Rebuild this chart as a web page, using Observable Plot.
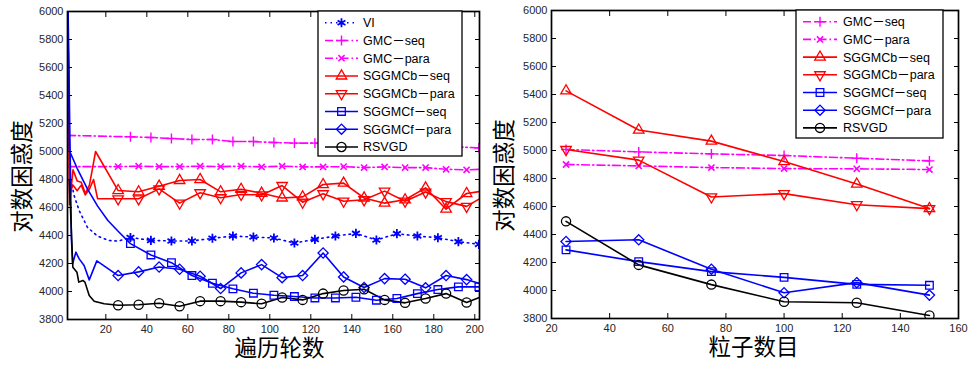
<!DOCTYPE html>
<html><head><meta charset="utf-8">
<script src="https://cdn.jsdelivr.net/npm/d3@7"></script>
<script src="https://cdn.jsdelivr.net/npm/@observablehq/plot@0.6"></script>
<style>
body{margin:0;background:#fff;}
#wrap{position:relative;width:969px;height:367px;overflow:hidden;background:#fff;}
#wrap svg{position:absolute;top:0;}
</style></head><body><div id="wrap"></div>
<script>
// ---------- tick labels ----------
const yTicks = [3800,4000,4200,4400,4600,4800,5000,5200,5400,5600,5800,6000];
const leftXTicks = [20,40,60,80,100,120,140,160,180,200];
const rightXTicks = [20,40,60,80,100,120,140,160];
const leftXLabel = "遍历轮数";
const rightXLabel = "粒子数目";
const yLabel = "对数困惑度";

// ---------- left chart: perplexity vs epochs ----------
const epochsA = [26,36,46,56,66,76,86,96,106,116,126,136,146,156,166,176,186,196];
const epochsB = [32,42,52,62,72,82,92,102,112,122,132,142,152,162,172,182,192,202];

const viEarly = [[3,4800],[4.5,4686],[7,4578],[11,4459],[16,4395],[21.6,4364],[26,4360]];
const viVals = [4386,4365,4361,4361,4380,4396,4389,4382,4346,4372,4396,4415,4368,4413,4396,4384,4356,4337];

const gmcSeqEarly = [[1.3,5115]];
const gmcSeqVals = [5105,5100,5093,5086,5086,5071,5071,5064,5060,5060,5055,5050,5047,5043,5040,5036,5032,5026];

const gmcParaEarly = [[1.3,4892]];
const gmcParaVals = [4892,4895,4892,4892,4895,4892,4895,4890,4895,4890,4890,4892,4885,4890,4885,4885,4873,4869];
const gmcParaTail = [[202.3,4873]];

const sgbSeqEarly = [[1.3,6300],[2.3,4620],[4,4870],[6,4790],[8,4780],[10,4700],[12,4760],[15,5000]];
const sgbSeqVals = [4721,4712,4752,4793,4800,4712,4730,4702,4668,4676,4764,4774,4668,4631,4655,4740,4588,4700];
const sgbSeqTail = [[202.3,4714]];

const sgbParaEarly = [[1.3,6300],[2.3,4700],[4,4760],[6,4720],[8,4760],[10,4690],[12,4730],[14,4800],[16,4662]];
const sgbParaVals = [4662,4662,4733,4631,4705,4670,4693,4690,4757,4638,4698,4645,4655,4717,4645,4710,4642,4608];
const sgbParaTail = [[202.3,4662]];

const sgfSeqEarly = [[1.3,6300],[2.2,5007],[6,4880],[11,4733],[16,4610],[21,4507],[26,4430]];
const sgfSeqVals = [4342,4261,4206,4114,4059,4019,3988,3973,3964,3954,3954,3959,3938,3950,3985,4014,4033,4033];

const sgfParaEarly = [[1.3,6300],[3.2,4380],[3.8,4198],[5.4,4281],[7,4233],[9.4,4186],[11.9,4083],[15.6,4219]];
const sgfParaVals = [4114,4140,4175,4159,4109,4021,4133,4192,4099,4114,4275,4104,4028,4092,4088,4026,4114,4085];
const sgfParaTail = [[202.3,4057]];

const rsvgdEarly = [[2.2,4800],[3.9,4174],[5.9,4138],[6.8,4067],[8.8,4079],[9.8,4067],[11.9,3971],[14.3,3931],[19.2,3912]];
const rsvgdVals = [3902,3905,3916,3895,3931,3931,3924,3912,3957,3940,3985,4007,4016,3940,3919,3950,3985,3921];
const rsvgdTail = [[202.3,3957]];

// ---------- right chart: perplexity vs number of particles ----------
const particles = [25,50,75,100,125,150];
const gmcSeqR  = [5007,4990,4976,4964,4945,4926];
const gmcParaR = [4900,4890,4878,4871,4869,4864];
const sgbSeqR  = [5426,5146,5067,4921,4760,4585];
const sgbParaR = [5007,4931,4668,4692,4613,4585];
const sgfSeqR  = [4290,4206,4135,4094,4044,4037];
const sgfParaR = [4350,4362,4152,3984,4056,3967];
const rsvgdR   = [4494,4183,4042,3920,3913,3822];

// ---------- series names ----------
const names = ["VI","GMC－seq","GMC－para","SGGMCb－seq","SGGMCb－para","SGGMCf－seq","SGGMCf－para","RSVGD"];

// ---------- styles ----------
const style = {
  "VI":          {stroke:"#0000ff", dash:"1.5,4",       symbol:"asterisk", r:4.3, rotate:0,   sw:1.8},
  "GMC－seq":    {stroke:"#ff00ff", dash:"8,3,1.5,3",   symbol:"plus",     r:3.3, rotate:0,   sw:1.4},
  "GMC－para":   {stroke:"#ff00ff", dash:"8,3,1.5,3",   symbol:"times",    r:2.9, rotate:0,   sw:1.6},
  "SGGMCb－seq": {stroke:"#ff0000", dash:null,          symbol:"triangle", r:3.9, rotate:0,   sw:1.3},
  "SGGMCb－para":{stroke:"#ff0000", dash:null,          symbol:"triangle", r:3.9, rotate:180, sw:1.3},
  "SGGMCf－seq": {stroke:"#0000ff", dash:null,          symbol:"square",   r:4.3, rotate:0,   sw:1.3},
  "SGGMCf－para":{stroke:"#0000ff", dash:null,          symbol:"diamond2", r:4.6, rotate:0,   sw:1.3},
  "RSVGD":       {stroke:"#000000", dash:null,          symbol:"circle",   r:4.6, rotate:0,   sw:1.3}
};

const toRows = pts => pts.map(([x,y]) => ({x, y}));
const zipRows = (xs, ys) => xs.map((x,i) => ({x, y: ys[i]}));

const leftSeries = [
  {name:names[0], line:[...toRows(viEarly), ...zipRows(epochsB, viVals)], marks: zipRows(epochsB, viVals)},
  {name:names[1], line:[...toRows(gmcSeqEarly), ...zipRows(epochsB, gmcSeqVals)], marks: zipRows(epochsB, gmcSeqVals)},
  {name:names[2], line:[...toRows(gmcParaEarly), ...zipRows(epochsA, gmcParaVals), ...toRows(gmcParaTail)], marks: zipRows(epochsA, gmcParaVals)},
  {name:names[3], line:[...toRows(sgbSeqEarly), ...zipRows(epochsA, sgbSeqVals), ...toRows(sgbSeqTail)], marks: zipRows(epochsA, sgbSeqVals)},
  {name:names[4], line:[...toRows(sgbParaEarly), ...zipRows(epochsA, sgbParaVals), ...toRows(sgbParaTail)], marks: zipRows(epochsA, sgbParaVals)},
  {name:names[5], line:[...toRows(sgfSeqEarly), ...zipRows(epochsB, sgfSeqVals)], marks: zipRows(epochsB, sgfSeqVals)},
  {name:names[6], line:[...toRows(sgfParaEarly), ...zipRows(epochsA, sgfParaVals), ...toRows(sgfParaTail)], marks: zipRows(epochsA, sgfParaVals)},
  {name:names[7], line:[...toRows(rsvgdEarly), ...zipRows(epochsA, rsvgdVals), ...toRows(rsvgdTail)], marks: zipRows(epochsA, rsvgdVals)}
];
const rightVals = [gmcSeqR, gmcParaR, sgbSeqR, sgbParaR, sgfSeqR, sgfParaR, rsvgdR];
const rightSeries = names.slice(1).map((n,i) => ({name:n, line: zipRows(particles, rightVals[i]), marks: zipRows(particles, rightVals[i])}));

const FONT = '"Liberation Sans", Arial, "Noto Sans CJK SC", sans-serif';
const CJK = '"Noto Sans CJK SC", sans-serif';

function seriesMarks(series) {
  const out = [];
  for (const s of series) {
    const st = style[s.name];
    out.push(Plot.line(s.line, {x:"x", y:"y", stroke:st.stroke, strokeWidth:1.6, strokeDasharray:st.dash, clip:true}));
  }
  for (const s of series) {
    const st = style[s.name];
    out.push(Plot.dot(s.marks, {x:"x", y:"y", symbol:st.symbol, r:st.r, rotate:st.rotate, stroke:st.stroke, fill:"none", strokeWidth:st.sw, clip:true}));
  }
  return out;
}

const fmt = d => String(d);
function axisMarks(xTicks) {
  return [
    Plot.axisY(yTicks, {anchor:"left", tickSize:0, tickPadding:4, fontSize:11, fill:"#262626", label:null, tickFormat:fmt}),
    Plot.axisX(xTicks, {anchor:"bottom", tickSize:0, tickPadding:6, fontSize:11, fill:"#262626", label:null, tickFormat:fmt}),
    Plot.axisY(yTicks, {anchor:"left", tickSize:-5, tickFormat:() => "", label:null, strokeWidth:1}),
    Plot.axisY(yTicks, {anchor:"right", tickSize:-5, tickFormat:() => "", label:null, strokeWidth:1}),
    Plot.axisX(xTicks, {anchor:"bottom", tickSize:-5, tickFormat:() => "", label:null, strokeWidth:1}),
    Plot.axisX(xTicks, {anchor:"top", tickSize:-5, tickFormat:() => "", label:null, strokeWidth:1}),
    Plot.frame({stroke:"#000", strokeWidth:1.7})
  ];
}

function labelMarks(xl, ldx, xdx) {
  return [
    Plot.text([yLabel], {frameAnchor:"left", text:d => d, rotate:-90, textAnchor:"middle", lineAnchor:"middle", dx:ldx, dy:11, fontSize:22.5, fontFamily:CJK, fill:"#000"}),
    Plot.text([xl], {frameAnchor:"bottom", text:d => d, textAnchor:"middle", lineAnchor:"middle", dx:xdx, dy:29, fontSize:22.5, fontFamily:CJK, fill:"#000"})
  ];
}

const wrap = document.getElementById("wrap");

const left = Plot.plot({
  width:485, height:367,
  marginLeft:67, marginRight:6, marginTop:11, marginBottom:48,
  style:{fontFamily:FONT, background:"transparent", overflow:"visible"},
  x:{domain:[1.3,202.3], label:null},
  y:{domain:[3800,6000], label:null},
  marks:[...seriesMarks(leftSeries), ...axisMarks(leftXTicks), ...labelMarks(leftXLabel, -45, 6)]
});
left.style.left = "0px";
wrap.appendChild(left);

const right = Plot.plot({
  width:484, height:367,
  marginLeft:66, marginRight:11, marginTop:10, marginBottom:49,
  style:{fontFamily:FONT, background:"transparent", overflow:"visible"},
  x:{domain:[20,160], label:null},
  y:{domain:[3800,6000], label:null},
  marks:[...seriesMarks(rightSeries), ...axisMarks(rightXTicks), ...labelMarks(rightXLabel, -47, -1.5)]
});
right.style.left = "485px";
wrap.appendChild(right);

// ---------- legends (inside the axes, drawn over the plots) ----------
const symMap = {asterisk:d3.symbolAsterisk, plus:d3.symbolPlus, times:d3.symbolTimes, triangle:d3.symbolTriangle,
  square:d3.symbolSquare, diamond2:d3.symbolDiamond2, circle:d3.symbolCircle};
const overlay = d3.select(wrap).append("svg").attr("width",969).attr("height",367)
  .style("left","0px").style("pointer-events","none");

function drawLegend(entries, box, lx0, lx1, tx, y0, dy) {
  const g = overlay.append("g");
  g.append("rect").attr("x",box[0]).attr("y",box[1]).attr("width",box[2]-box[0]).attr("height",box[3]-box[1])
    .attr("fill","#fff").attr("stroke","#000").attr("stroke-width",1.3);
  entries.forEach((n,i) => {
    const st = style[n], y = y0 + i*dy, mx = (lx0+lx1)/2;
    g.append("line").attr("x1",lx0).attr("x2",lx1).attr("y1",y).attr("y2",y)
      .attr("stroke",st.stroke).attr("stroke-width",1.6).attr("stroke-dasharray",st.dash);
    g.append("path").attr("d", d3.symbol(symMap[st.symbol], Math.PI*st.r*st.r)())
      .attr("transform",`translate(${mx},${y}) rotate(${st.rotate})`)
      .attr("fill","none").attr("stroke",st.stroke).attr("stroke-width",st.sw);
    g.append("text").attr("x",tx).attr("y",y).attr("dy","0.36em").text(n)
      .attr("font-size",12.5).attr("font-family",FONT).attr("fill","#000");
  });
}
drawLegend(names, [318,11,462,156], 325, 358, 363, 22.7, 17.75);
drawLegend(names.slice(1), [796,10,943,138], 803, 837, 843, 21.7, 17.7);
</script></body></html>
